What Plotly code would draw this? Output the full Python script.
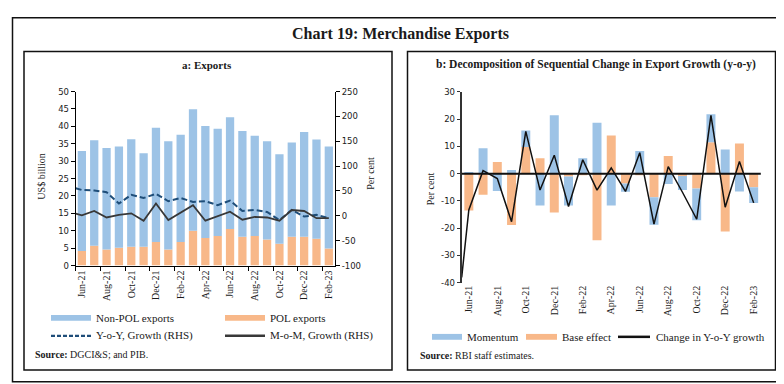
import plotly.graph_objects as go

# ---------------- data ----------------
months = ["Jun-21", "Jul-21", "Aug-21", "Sep-21", "Oct-21", "Nov-21", "Dec-21",
          "Jan-22", "Feb-22", "Mar-22", "Apr-22", "May-22", "Jun-22", "Jul-22",
          "Aug-22", "Sep-22", "Oct-22", "Nov-22", "Dec-22", "Jan-23", "Feb-23"]

# Panel a (US$ billion)
pol_exports = [4.2, 5.7, 4.6, 5.1, 5.4, 5.4, 6.8, 4.6, 6.8, 10.0, 7.9,
               8.5, 10.5, 8.3, 8.5, 7.5, 6.3, 8.3, 8.3, 7.7, 4.9]
nonpol_exports = [28.7, 30.3, 29.2, 29.1, 30.9, 26.9, 32.8, 31.1, 30.8, 34.9, 32.2,
                  30.8, 32.1, 30.4, 28.8, 28.2, 25.7, 27.1, 30.1, 28.5, 29.3]
# growth lines (per cent, RHS); first value is drawn at the left edge of the axis
yoy_growth = [55.5, 52.0, 51.0, 47.6, 24.7, 42.4, 35.9, 44.3, 29.4, 35.9, 28.0,
              29.4, 21.6, 30.6, 9.8, 11.8, 7.8, -8.6, 11.8, -1.4, 2.0, -4.7]
mom_growth = [4.5, 1.2, 9.8, -3.3, 2.0, 5.1, -9.8, 24.7, -8.6, 6.5, 21.6,
              -9.8, -1.4, 8.4, -7.8, -2.0, -3.3, -9.8, 11.8, 9.8, -4.7, -4.7]

# Panel b (per cent)
momentum = [0.6, 9.3, -6.3, 1.4, 6.0, -11.7, 21.4, -10.7, 5.7, 18.7, -11.7,
            -3.0, 8.3, -10.1, -3.8, -5.2, -11.7, 10.3, 8.9, -6.5, -5.7]
base_effect = [-13.5, -7.7, 4.3, -18.8, 9.8, 5.7, -14.2, -1.0, -0.6, -24.4, 14.0,
               -3.6, -0.6, -8.6, 6.5, -0.8, -5.4, 11.5, -21.2, 11.1, -5.0]
change_yoy = [-38.0, -13.3, 1.1, -1.8, -17.6, 15.5, -6.0, 6.8, -12.0, 5.1, -6.0,
              2.1, -6.5, 7.7, -18.5, 2.6, -6.8, -16.7, 21.4, -12.3, 4.5, -10.7]

# tick values
lhs_ticks = list(range(0, 51, 5))
rhs_ticks = list(range(-100, 251, 50))
b_ticks = list(range(-40, 31, 10))

# ---------------- styling ----------------
W, H = 784, 384
BLUE = "#9DC3E6"
ORANGE = "#F8B889"
SERIF = "Liberation Serif"
SANS = "DejaVu Sans"
TXT = "#1a1a1a"


def px(x):
    return x / W


def py(y):
    return 1 - y / H


def lab(vals):
    return [str(v) for v in vals]  # plain hyphen minus as in the original


idx = list(range(len(months)))
line_x = [-0.5] + idx
tick_idx = idx[::2]
tick_txt = months[::2]
bound_ticks = [i - 0.5 for i in tick_idx]

fig = go.Figure()

# Panel a
fig.add_trace(go.Bar(x=idx, y=pol_exports, name="POL exports", marker_color=ORANGE,
                     marker_line_width=0, width=0.67, xaxis="x", yaxis="y"))
fig.add_trace(go.Bar(x=idx, y=nonpol_exports, name="Non-POL exports", marker_color=BLUE,
                     marker_line_width=0, width=0.67, xaxis="x", yaxis="y"))
fig.add_trace(go.Scatter(x=line_x, y=yoy_growth, name="Y-o-Y, Growth (RHS)", mode="lines",
                         line=dict(color="#1F4E79", width=2, dash="6px,3px"),
                         xaxis="x", yaxis="y2"))
fig.add_trace(go.Scatter(x=line_x, y=mom_growth, name="M-o-M, Growth (RHS)", mode="lines",
                         line=dict(color="#383838", width=1.8),
                         xaxis="x", yaxis="y2"))

# Panel b
fig.add_trace(go.Bar(x=idx, y=base_effect, name="Base effect", marker_color=ORANGE,
                     marker_line_width=0, width=0.63, xaxis="x2", yaxis="y3"))
fig.add_trace(go.Bar(x=idx, y=momentum, name="Momentum", marker_color=BLUE,
                     marker_line_width=0, width=0.63, xaxis="x2", yaxis="y3"))
fig.add_trace(go.Scatter(x=line_x, y=change_yoy, name="Change in Y-o-Y growth", mode="lines",
                         line=dict(color="#111111", width=1.5),
                         xaxis="x2", yaxis="y3"))

num_font = dict(family=SANS, size=8.5, color=TXT)
cat_font = dict(family=SERIF, size=10, color=TXT)

fig.update_layout(
    width=W, height=H, margin=dict(l=0, r=0, t=0, b=0),
    paper_bgcolor="white", plot_bgcolor="white",
    barmode="relative", showlegend=False,
    xaxis=dict(domain=[px(67.7), px(327)], anchor="y", range=[-0.5, 20.5],
               tickmode="array", tickvals=tick_idx, ticktext=tick_txt, tickangle=-90,
               ticks="", showline=True, linecolor="#000", linewidth=1,
               showgrid=False, zeroline=False, tickfont=cat_font,
               minor=dict(tickmode="array", tickvals=bound_ticks, ticks="outside",
                          ticklen=4, tickcolor="#000", showgrid=False)),
    yaxis=dict(domain=[py(259.3), py(80.7)], anchor="x", range=[0, 50],
               tickmode="array", tickvals=lhs_ticks, ticktext=lab(lhs_ticks),
               ticks="outside", ticklen=4, tickcolor="#000", showline=True,
               linecolor="#000", linewidth=1, showgrid=False, zeroline=False,
               tickfont=num_font),
    yaxis2=dict(overlaying="y", side="right", anchor="x", range=[-100, 250],
                tickmode="array", tickvals=rhs_ticks, ticktext=lab(rhs_ticks),
                ticks="outside", ticklen=4, tickcolor="#000", showline=True,
                linecolor="#000", linewidth=1, showgrid=False, zeroline=False,
                tickfont=num_font),
    xaxis2=dict(domain=[px(453.7), px(752.8)], anchor="y3", range=[-0.5, 20.5],
                tickmode="array", tickvals=tick_idx, ticktext=tick_txt, tickangle=-90,
                ticks="", showline=False, showgrid=False, zeroline=False,
                tickfont=cat_font),
    yaxis3=dict(domain=[py(277), py(81)], anchor="x2", range=[-40, 30],
                tickmode="array", tickvals=b_ticks, ticktext=lab(b_ticks),
                ticks="outside", ticklen=3, tickcolor="#333", showline=True,
                linecolor="#333", linewidth=2, showgrid=False, zeroline=False,
                tickfont=num_font),
)

shapes = []
# frames
shapes.append(dict(type="rect", xref="paper", yref="paper", x0=px(4.5), x1=px(778.5),
                   y0=py(378.5), y1=py(5), line=dict(color="#111", width=1.5)))
shapes.append(dict(type="rect", xref="paper", yref="paper", x0=px(16), x1=px(384),
                   y0=py(366.5), y1=py(39.5), line=dict(color="#111", width=1.5)))
shapes.append(dict(type="rect", xref="paper", yref="paper", x0=px(399.5), x1=px(767.5),
                   y0=py(366.5), y1=py(39.5), line=dict(color="#111", width=1.5)))
# zero line of panel b (drawn above bars)
shapes.append(dict(type="line", xref="x2 domain", yref="y3", x0=0, x1=1, y0=0, y1=0,
                   layer="above", line=dict(color="#111", width=2)))


def swatch_rect(x0, x1, yc, color, h=6):
    shapes.append(dict(type="rect", xref="paper", yref="paper", x0=px(x0), x1=px(x1),
                       y0=py(yc + h / 2), y1=py(yc - h / 2), fillcolor=color,
                       line=dict(width=0)))


def swatch_line(x0, x1, yc, color, width, dash="solid"):
    shapes.append(dict(type="line", xref="paper", yref="paper", x0=px(x0), x1=px(x1),
                       y0=py(yc), y1=py(yc), line=dict(color=color, width=width, dash=dash)))


# legend panel a
swatch_rect(43, 83, 313, BLUE)
swatch_rect(217, 257, 313, ORANGE)
swatch_line(43, 83, 331.5, "#1F4E79", 2.2, "4px,2px")
swatch_line(217, 257, 331.5, "#383838", 2.5)
# legend panel b
swatch_rect(424, 454, 332.5, BLUE)
swatch_rect(518, 549, 332.5, ORANGE)
swatch_line(610, 642, 332.5, "#111", 2.5)

fig.update_layout(shapes=shapes)

annotations = []


def txt(x, y, s, size=11, bold=False, xanchor="left", angle=0, family=SERIF):
    annotations.append(dict(xref="paper", yref="paper", x=px(x), y=py(y),
                            text=("<b>%s</b>" % s) if bold else s, showarrow=False,
                            xanchor=xanchor, yanchor="middle", textangle=angle,
                            font=dict(family=family, size=size, color=TXT)))


txt(392, 22, "Chart 19: Merchandise Exports", size=16, bold=True, xanchor="center")
txt(199, 53, "a: Exports", size=11, bold=True, xanchor="center")
txt(588, 53, "b: Decomposition of Sequential Change in Export Growth (y-o-y)",
    size=11.5, bold=True, xanchor="center")
txt(34, 168, "US$ billion", size=10, xanchor="center", angle=-90)
txt(363, 165, "Per cent", size=10, xanchor="center", angle=-90)
txt(422, 180, "Per cent", size=10, xanchor="center", angle=-90)
txt(86, 313, "Non-POL exports")
txt(260, 313, "POL exports")
txt(86, 331.5, "Y-o-Y, Growth (RHS)")
txt(260, 331.5, "M-o-M, Growth (RHS)")
txt(457, 332.5, "Momentum")
txt(552, 332.5, "Base effect")
txt(646, 332.5, "Change in Y-o-Y growth")
txt(25, 350.5, "<b>Source:</b> DGCI&amp;S; and PIB.", size=10)
txt(410, 351.5, "<b>Source:</b> RBI staff estimates.", size=10)

fig.update_layout(annotations=annotations)

fig.write_html("out.html")
